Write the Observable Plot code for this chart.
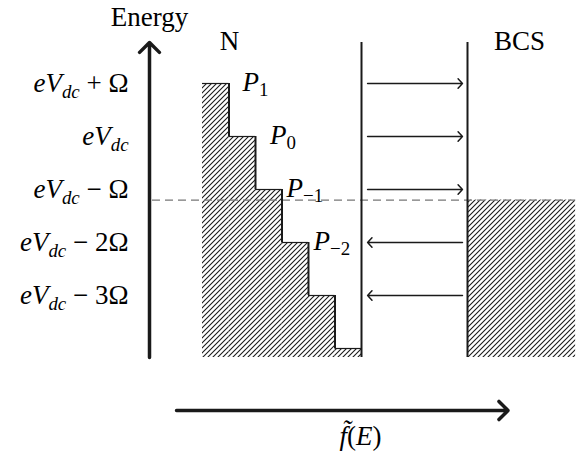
<!DOCTYPE html>
<html>
<head>
<meta charset="utf-8">
<script src="https://cdn.jsdelivr.net/npm/d3@7"></script>
<script src="https://cdn.jsdelivr.net/npm/@observablehq/plot@0.6"></script>
<style>
  html, body { margin: 0; padding: 0; background: #fff; }
  svg text { font-family: "Liberation Serif", "DejaVu Serif", serif; }
</style>
</head>
<body>
<div id="chart"></div>
<script>
// ---- data (energies in units of Ω relative to eV_dc; f̃ in arbitrary bin units) ----
const levels = [1, 0, -1, -2, -3];
const levelLabels = ["$eV_{dc} + Ω$", "$eV_{dc}$", "$eV_{dc} − Ω$", "$eV_{dc} − 2Ω$", "$eV_{dc} − 3Ω$"];
const stepBins = [0, 1, 2, 3, 4, 5];
const stepTops = [1, 0, -1, -2, -3, -4];
const pLabels = ["$P_{1}$", "$P_{0}$", "$P_{−1}$", "$P_{−2}$"];
const pLevels = [1, 0, -1, -2];
const pX = [1.51, 2.55, 3.17, 4.19];
const transitionLevels = [1, 0, -1, -2, -3];
const transitionDir = [1, 1, 1, -1, -1];
const bcsFermi = -1.2;
const wallN = 6;
const wallBCS = 10;
const bandBottom = -4.17;
const bandTop = 1.774;
const bcsRight = 14.08;
const energyAxisX = -2;
const fAxisY = -5.17;
const fAxisStart = -0.98;
const fAxisEnd = 11.53;
const transStart = 6.23;
const transEnd = 9.81;

const W = 582, H = 456;
const ink = "#1a1a1a";
const FS = 27;
const FONT = "Liberation Serif";

const plot = Plot.plot({
  width: W,
  height: H,
  margin: 0,
  style: { background: "#fff", color: "#000" },
  x: { domain: [-202 / 26.5, (W - 202) / 26.5], range: [0, W], axis: null },
  y: { domain: [(136 - H) / 53, 136 / 53], range: [H, 0], axis: null },
  marks: [
    // hatched occupied states in N (staircase)
    Plot.rect(stepBins, {
      x1: d => d, x2: d => d + 1,
      y1: () => bandBottom, y2: (d, i) => stepTops[i],
      fill: "url(#hatch)", inset: 0
    }),
    // hatched BCS occupied states
    Plot.rect([0], {
      x1: () => wallBCS, x2: () => bcsRight,
      y1: () => bandBottom, y2: () => bcsFermi,
      fill: "url(#hatch)", inset: 0
    }),
    // dashed Fermi level
    Plot.ruleY([bcsFermi], {
      x1: () => -1.887, x2: () => bcsRight,
      stroke: "#777", strokeWidth: 1.3, strokeDasharray: "8,5"
    }),
    // staircase horizontal edges
    Plot.ruleY(stepBins, {
      y: (d, i) => stepTops[i], x1: d => d, x2: d => d + 1,
      stroke: ink, strokeWidth: 1.2
    }),
    // staircase risers
    Plot.ruleX(stepBins.slice(1), {
      x: d => d, y1: d => stepTops[d - 1], y2: d => stepTops[d],
      stroke: ink, strokeWidth: 2
    }),
    // junction walls
    Plot.ruleX([wallN, wallBCS], {
      y1: () => bandBottom, y2: () => bandTop,
      stroke: ink, strokeWidth: 2
    }),
    // energy axis
    Plot.arrow([0], {
      x1: () => energyAxisX, x2: () => energyAxisX,
      y1: () => bandBottom, y2: () => bandTop,
      stroke: ink, strokeWidth: 3.5, headLength: 6, headAngle: 90
    }),
    // f̃ axis
    Plot.arrow([0], {
      x1: () => fAxisStart, x2: () => fAxisEnd,
      y1: () => fAxisY, y2: () => fAxisY,
      stroke: ink, strokeWidth: 3.5, headLength: 5.5, headAngle: 90
    }),
    // tunnelling arrows
    Plot.arrow(transitionLevels, {
      x1: (d, i) => transitionDir[i] > 0 ? transStart : transEnd,
      x2: (d, i) => transitionDir[i] > 0 ? transEnd : transStart,
      y1: d => d, y2: d => d,
      stroke: ink, strokeWidth: 1.5, headLength: 6.5, headAngle: 95
    }),
    // level labels
    Plot.text(levels, {
      x: () => -2.79, y: d => d, text: (d, i) => levelLabels[i],
      textAnchor: "end", lineAnchor: "middle", fontSize: FS, fontFamily: FONT, fill: "#000"
    }),
    // P labels
    Plot.text(pLevels, {
      x: (d, i) => pX[i], y: d => d + 0.02, text: (d, i) => pLabels[i],
      textAnchor: "start", lineAnchor: "middle", fontSize: FS, fontFamily: FONT, fill: "#000"
    }),
    // titles
    Plot.text(["Energy"], { x: () => energyAxisX, y: () => 2.25, text: d => d, lineAnchor: "middle", fontSize: FS, fontFamily: FONT, fill: "#000" }),
    Plot.text(["N"], { x: () => 1.02, y: () => 1.80, text: d => d, lineAnchor: "middle", fontSize: FS, fontFamily: FONT, fill: "#000" }),
    Plot.text(["BCS"], { x: () => 11.96, y: () => 1.80, text: d => d, lineAnchor: "middle", fontSize: FS, fontFamily: FONT, fill: "#000" }),
    Plot.text(["$f\u0303(E)$"], { x: () => 5.96, y: () => -5.66, text: d => d, lineAnchor: "middle", fontSize: FS, fontFamily: FONT, fill: "#000" })
  ]
});

// hatch pattern
const svgNS = "http://www.w3.org/2000/svg";
d3.select(plot).insert("defs", ":first-child").html(
  `<pattern id="hatch" patternUnits="userSpaceOnUse" width="5" height="5">
     <path d="M-1,1 L1,-1 M0,5 L5,0 M4,6 L6,4" stroke="${ink}" stroke-width="1.1" fill="none"/>
   </pattern>`
);

// math-style labels: italic letters, subscripts
function mathify(el) {
  let s = el.textContent;
  if (!(s.startsWith("$") && s.endsWith("$"))) return;
  s = s.slice(1, -1);
  const runs = [];
  const push = (str, sub) => {
    for (const ch of str) {
      const last = runs[runs.length - 1];
      if (/\p{M}/u.test(ch) && last) { last.text += ch; continue; }
      const italic = /[A-Za-z]/.test(ch);
      if (last && last.italic === italic && last.sub === sub) last.text += ch;
      else runs.push({ text: ch, italic, sub });
    }
  };
  let i = 0;
  while (i < s.length) {
    if (s[i] === "_" && s[i + 1] === "{") {
      const j = s.indexOf("}", i);
      push(s.slice(i + 2, j), true);
      i = j + 1;
    } else { push(s[i], false); i++; }
  }
  el.textContent = "";
  const shift = FS * 0.2;
  let down = false;
  for (const r of runs) {
    const t = document.createElementNS(svgNS, "tspan");
    t.textContent = r.text;
    if (r.italic) t.setAttribute("font-style", "italic");
    if (r.sub) t.setAttribute("font-size", FS * 0.7);
    if (r.sub && !down) { t.setAttribute("dy", shift); down = true; }
    else if (!r.sub && down) { t.setAttribute("dy", -shift); down = false; }
    el.appendChild(t);
  }
}
plot.querySelectorAll("text").forEach(mathify);

document.getElementById("chart").appendChild(plot);
</script>
</body>
</html>
